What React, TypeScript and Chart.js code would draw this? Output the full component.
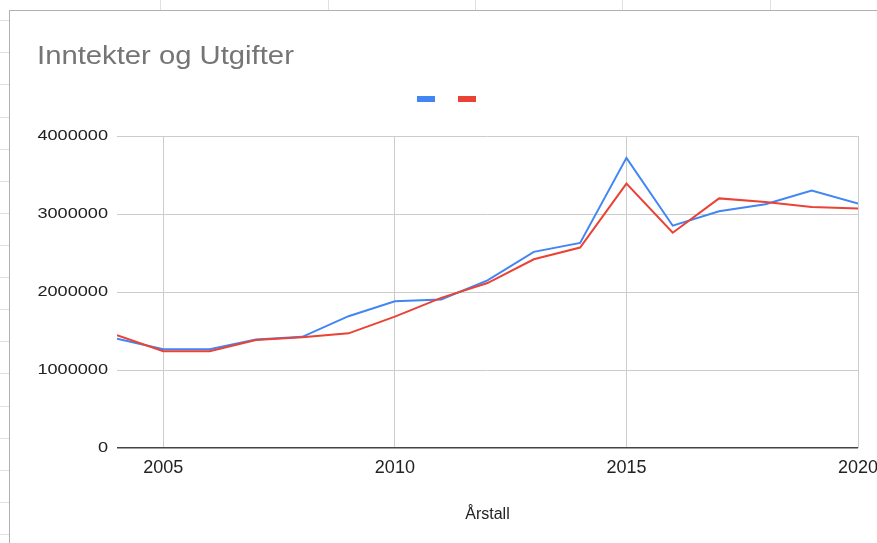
import React, { useEffect, useRef } from "react";
import { Chart, registerables } from "chart.js";

Chart.register(...registerables);

// ---- Data ----
const years = [2004, 2005, 2006, 2007, 2008, 2009, 2010, 2011, 2012, 2013, 2014, 2015, 2016, 2017, 2018, 2019, 2020];
const inntekter = [1400000, 1265000, 1265000, 1390000, 1425000, 1690000, 1880000, 1905000, 2150000, 2515000, 2630000, 3720000, 2850000, 3035000, 3125000, 3300000, 3135000];
const utgifter = [1445000, 1240000, 1240000, 1385000, 1420000, 1470000, 1685000, 1925000, 2115000, 2420000, 2570000, 3390000, 2760000, 3200000, 3155000, 3090000, 3070000];
const xTickValues = [2005, 2010, 2015, 2020];
const yTickValues = [0, 1000000, 2000000, 3000000, 4000000];
const titleText = "Inntekter og Utgifter";
const xAxisTitle = "Årstall";

// ---- Decoration (spreadsheet grid behind the chart) ----
const sheetColumnLines = [160, 328, 475, 622, 770];
const sheetRowLines = [20, 52, 84, 117, 149, 181, 213, 245, 277, 309, 341, 373, 406, 438, 470, 502, 534];

const FONT = '"Liberation Sans", Arial, Helvetica, sans-serif';
const BLUE = "#4285F4";
const RED = "#EA4335";
const Y_TICK_PAD = 9;
const GLYPH_STRETCH = 1.17;

// The reference text is horizontally wide; stretch title and y tick labels about their anchors.
const stretchPlugin = {
  id: "stretchPatch",
  afterLayout(chart: any) {
    const wrap = (obj: any, method: string, anchor: () => number) => {
      if (!obj || obj["__s_" + method]) return;
      const orig = obj[method];
      obj[method] = function (...args: any[]) {
        const ctx = chart.ctx;
        const ax = anchor();
        ctx.save();
        ctx.translate(ax, 0);
        ctx.scale(GLYPH_STRETCH, 1);
        ctx.translate(-ax, 0);
        try {
          return orig.apply(this, args);
        } finally {
          ctx.restore();
        }
      };
      obj["__s_" + method] = true;
    };
    wrap(chart.titleBlock, "draw", () => chart.titleBlock.left);
    wrap(chart.scales.y, "drawLabels", () => chart.scales.y.right - Y_TICK_PAD);
  },
};

export default function App() {
  const canvasRef = useRef<HTMLCanvasElement | null>(null);

  useEffect(() => {
    const canvas = canvasRef.current;
    if (!canvas) return;
    const chart = new Chart(canvas, {
      type: "line",
      data: {
        datasets: [
          {
            label: "Inntekter",
            data: years.map((yr, i) => ({ x: yr, y: inntekter[i] })),
            borderColor: BLUE,
            backgroundColor: BLUE,
            borderWidth: 2,
            pointRadius: 0,
            tension: 0,
            order: 1,
          },
          {
            label: "Utgifter",
            data: years.map((yr, i) => ({ x: yr, y: utgifter[i] })),
            borderColor: RED,
            backgroundColor: RED,
            borderWidth: 2,
            pointRadius: 0,
            tension: 0,
            order: 0,
          },
        ],
      },
      plugins: [stretchPlugin],
      options: {
        responsive: false,
        animation: false,
        devicePixelRatio: 1,
        layout: { padding: { left: 27, right: 72, top: 0, bottom: 0 } },
        plugins: {
          title: {
            display: true,
            text: titleText,
            align: "start",
            color: "#757575",
            font: { family: FONT, size: 25, weight: "normal" },
            padding: { top: 30.8, bottom: 3.2 },
          },
          subtitle: {
            display: true,
            text: "",
            weight: 500,
            font: { family: FONT, size: 10 },
            padding: { top: 6, bottom: 6 },
          },
          legend: {
            display: true,
            position: "top",
            align: "center",
            labels: {
              boxWidth: 18,
              boxHeight: 6,
              padding: 21,
              font: { family: FONT, size: 4 },
              sort: (a: any, b: any) => a.datasetIndex - b.datasetIndex,
              generateLabels: (ch: any) =>
                Chart.defaults.plugins.legend.labels
                  .generateLabels(ch)
                  .map((l: any) => ({ ...l, text: "", lineWidth: 0, strokeStyle: "rgba(0,0,0,0)" })),
            },
          },
          tooltip: { enabled: false },
        },
        scales: {
          x: {
            type: "linear",
            min: years[0],
            max: years[years.length - 1],
            afterBuildTicks: (s: any) => {
              s.ticks = xTickValues.map((v) => ({ value: v }));
            },
            afterFit: (s: any) => {
              s.height = 95;
            },
            border: { display: false },
            grid: { color: "#cccccc", lineWidth: 1, drawTicks: false },
            ticks: {
              color: "#222222",
              font: { family: FONT, size: 18 },
              padding: 9,
              maxRotation: 0,
              callback: (v: any) => String(v),
            },
            title: {
              display: true,
              text: xAxisTitle,
              color: "#222222",
              font: { family: FONT, size: 16 },
              padding: { top: 0, bottom: 18.9 },
            },
          },
          y: {
            type: "linear",
            min: yTickValues[0],
            max: yTickValues[yTickValues.length - 1],
            afterBuildTicks: (s: any) => {
              s.ticks = yTickValues.map((v) => ({ value: v }));
            },
            afterFit: (s: any) => {
              s.width = 80;
            },
            border: { display: false },
            grid: {
              color: (ctx: any) => (ctx.tick && ctx.tick.value === 0 ? "#444444" : "#cccccc"),
              lineWidth: (ctx: any) => (ctx.tick && ctx.tick.value === 0 ? 1.5 : 1),
              drawTicks: false,
            },
            ticks: {
              color: "#222222",
              font: { family: FONT, size: 15.5 },
              padding: Y_TICK_PAD,
              callback: (v: any) => String(v),
            },
          },
        },
      },
    });
    return () => chart.destroy();
  }, []);

  return (
    <div
      style={{
        position: "fixed",
        left: 0,
        top: 0,
        width: 877,
        height: 543,
        overflow: "hidden",
        background: "#ffffff",
      }}
    >
      {sheetColumnLines.map((x) => (
        <div key={"c" + x} style={{ position: "absolute", left: x, top: 0, width: 1, height: 543, background: "#e0e0e0" }} />
      ))}
      {sheetRowLines.map((y) => (
        <div key={"r" + y} style={{ position: "absolute", left: 0, top: y, width: 877, height: 1, background: "#e0e0e0" }} />
      ))}
      <div
        style={{
          position: "absolute",
          left: 9,
          top: 10,
          width: 1000,
          height: 600,
          background: "#ffffff",
          borderLeft: "1px solid #b0b0b0",
          borderTop: "1px solid #b0b0b0",
        }}
      >
        <canvas ref={canvasRef} width={920} height={532} style={{ display: "block", width: 920, height: 532 }} />
      </div>
    </div>
  );
}
